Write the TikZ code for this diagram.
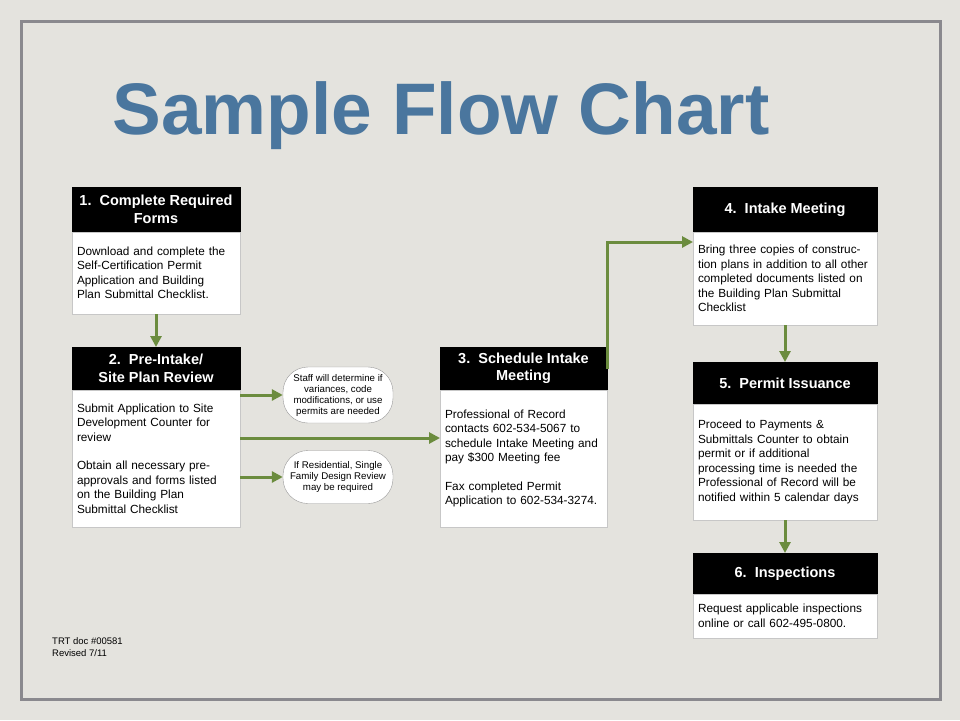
\documentclass[tikz,border=0pt]{standalone}
\usepackage{fontspec}
\setmainfont{Liberation Sans}
\usetikzlibrary{positioning,calc,arrows.meta}
\definecolor{PaperGray}{RGB}{228,227,222}
\definecolor{FrameGray}{RGB}{138,137,142}
\definecolor{TitleBlue}{RGB}{74,118,158}
\definecolor{ArrowGreen}{RGB}{107,140,62}
\begin{document}
\begin{tikzpicture}[x=1pt,y=-1pt]
  \tikzset{HeadStyle/.style = {shape          = rectangle,
                               fill           = black,
                               draw           = black,
                               text           = white,
                               font           = \fontsize{14.5}{17.5}\selectfont\bfseries,
                               align          = center,
                               inner sep      = 0pt,
                               outer sep      = 0pt,
                               anchor         = north west}}
  \tikzset{BodyStyle/.style = {shape          = rectangle,
                               fill           = white,
                               draw           = black!22,
                               text           = black,
                               font           = \fontsize{11.8}{14.5}\selectfont,
                               align          = left,
                               inner xsep     = 5pt,
                               inner ysep     = 0pt,
                               outer sep      = 0pt}}
  \tikzset{NoteStyle/.style = {shape          = rectangle,
                               rounded corners = 25pt,
                               fill           = white,
                               draw           = black!40,
                               font           = \fontsize{9.7}{11}\selectfont,
                               align          = center,
                               minimum width  = 110pt,
                               inner sep      = 0pt}}
  \tikzset{EdgeStyle/.style = {line width     = 3pt,
                               color          = ArrowGreen,
                               -{Triangle[length=11pt,width=11pt]}}}

% paper and frame
\fill[PaperGray] (0,0) rectangle (960,720);
\useasboundingbox (0,0) rectangle (960,720);
\draw[line width=3pt,FrameGray] (21.5,21.5) rectangle (940.5,699.5);

\node[anchor=base,text=TitleBlue,font=\fontsize{73}{80}\selectfont\bfseries]
  (Title) at (441,134) {Sample Flow Chart};

% step 1
\node[HeadStyle,minimum width=168pt,minimum height=45pt] (H1) at (72,187)
  {1.~~Complete Required\\Forms};
\node[BodyStyle,text width=158pt,minimum height=82pt,below=0pt of H1] (B1)
  {Download and complete the\\Self-Certification Permit\\Application and Building\\Plan Submittal Checklist.};

% step 2
\node[HeadStyle,minimum width=168pt,minimum height=43pt] (H2) at (72,347)
  {2.~~Pre-Intake/\\Site Plan Review};
\node[BodyStyle,text width=158pt,minimum height=137pt,below=0pt of H2] (B2)
  {Submit Application to Site\\Development Counter for\\review\\[14pt]Obtain all necessary pre-\\approvals and forms listed\\on the Building Plan\\Submittal Checklist};

% notes
\node[NoteStyle,minimum height=56pt] (N1) at (338,395)
  {Staff will determine if\\variances, code\\modifications, or use\\permits are needed};
\node[NoteStyle,minimum height=53pt] (N2) at (338,477)
  {If Residential, Single\\Family Design Review\\may be required};

% step 3
\node[HeadStyle,minimum width=167pt,minimum height=43pt] (H3) at (440,347)
  {3.~~Schedule Intake\\Meeting};
\node[BodyStyle,text width=157pt,minimum height=137pt,below=0pt of H3] (B3)
  {Professional of Record\\contacts 602-534-5067 to\\schedule Intake Meeting and\\pay \$300 Meeting fee\\[14pt]Fax completed Permit\\Application to 602-534-3274.};

% step 4
\node[HeadStyle,minimum width=184pt,minimum height=45pt] (H4) at (693,187)
  {4.~~Intake Meeting};
\node[BodyStyle,text width=174pt,minimum height=93pt,below=0pt of H4] (B4)
  {Bring three copies of construc-\\tion plans in addition to all other\\completed documents listed on\\the Building Plan Submittal\\Checklist};

% step 5
\node[HeadStyle,minimum width=184pt,minimum height=42pt] (H5) at (693,362)
  {5.~~Permit Issuance};
\node[BodyStyle,text width=174pt,minimum height=116pt,below=0pt of H5] (B5)
  {Proceed to Payments \&\\Submittals Counter to obtain\\permit or if additional\\processing time is needed the\\Professional of Record will be\\notified within 5 calendar days};

% step 6
\node[HeadStyle,minimum width=184pt,minimum height=41pt] (H6) at (693,553)
  {6.~~Inspections};
\node[BodyStyle,text width=174pt,minimum height=44pt,below=0pt of H6] (B6)
  {Request applicable inspections\\online or call 602-495-0800.};

\node[anchor=north west,align=left,inner sep=0pt,font=\fontsize{9.5}{12}\selectfont]
  (Doc) at (52,637) {TRT doc \#00581\\Revised 7/11};

\coordinate (L3) at (240,438);
\coordinate (K4) at ($(B4.north west)+(0,10)$);

\draw[EdgeStyle] (B1) -- (H2);
\draw[EdgeStyle] (B2.east |- N1.west) -- (N1.west);
\draw[EdgeStyle] (B2.east |- N2.west) -- (N2.west);
\draw[EdgeStyle] (L3) -- (L3 -| B3.west);
\draw[EdgeStyle] (H3.east) |- (K4);
\draw[EdgeStyle] (B4) -- (H5);
\draw[EdgeStyle] (B5) -- (H6);
\end{tikzpicture}
\end{document}
